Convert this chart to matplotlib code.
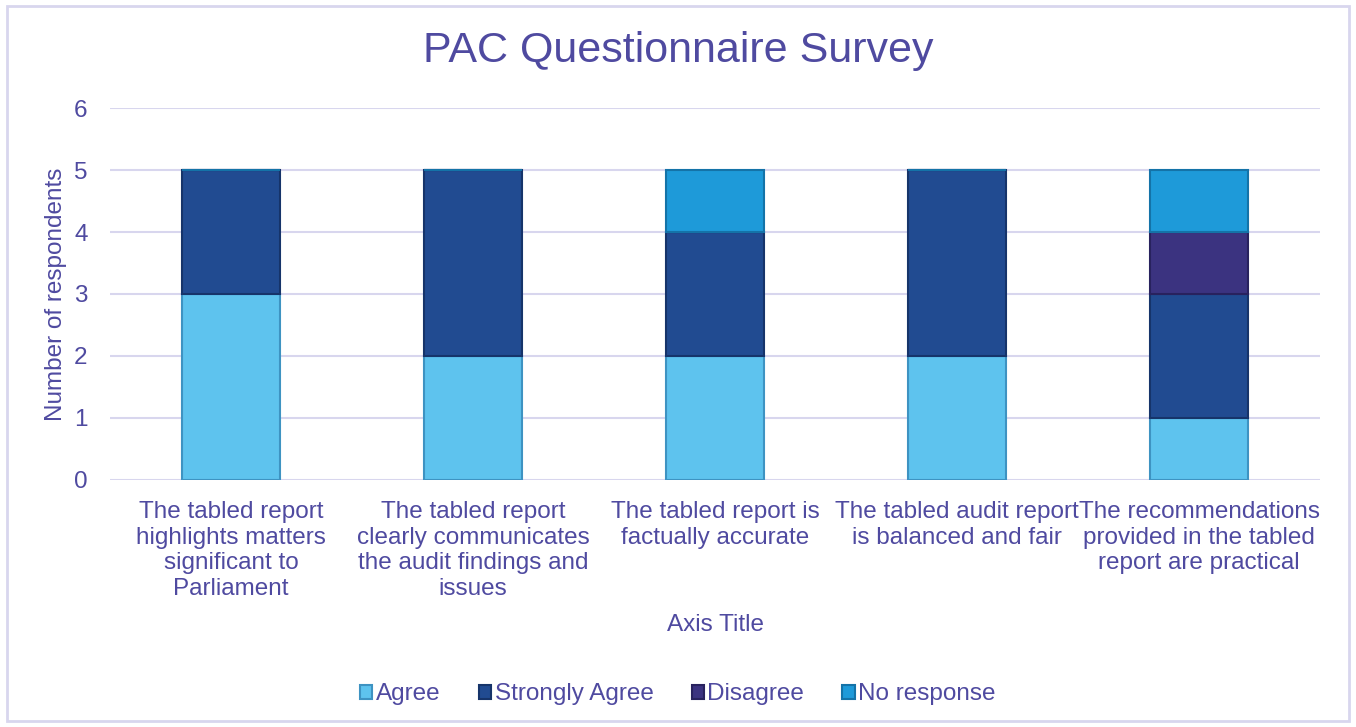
import numpy as np
import matplotlib.pyplot as plt
from matplotlib.patches import Rectangle

# dados do gráfico
categorias = ["The tabled report\nhighlights matters\nsignificant to\nParliament",
              "The tabled report\nclearly communicates\nthe audit findings and\nissues",
              "The tabled report is\nfactually accurate",
              "The tabled audit report\nis balanced and fair",
              "The recommendations\nprovided in the tabled\nreport are practical"]
series = ["Agree", "Strongly Agree", "Disagree", "No response"]
agree = [3, 2, 2, 2, 1]
strongly_agree = [2, 3, 2, 3, 2]
disagree = [0, 0, 0, 0, 1]
no_response = [0, 0, 1, 0, 1]
valores = [agree, strongly_agree, disagree, no_response]

cores = ["#5EC3EE", "#214B91", "#3B3380", "#1E9AD9"]
bordas = ["#3E93C2", "#16346A", "#28225E", "#1473A8"]
cor_texto = "#4F4AA0"
fs = 17.5
plt.rcParams['font.family'] = ['Liberation Sans', 'DejaVu Sans']

fig = plt.figure(figsize=(13.56, 7.27), dpi=100)
ax = fig.add_axes([0.0811, 0.3398, 0.8924, 0.5116])

x = np.arange(len(categorias))
base = np.zeros(len(categorias))
for nome, v, c, b in zip(series, valores, cores, bordas):
    v = np.array(v, dtype=float)
    ax.bar(x, v, bottom=base, width=0.405, color=c, edgecolor=b, linewidth=1.5,
           label=nome, zorder=3)
    base += v

ax.set_ylim(0, 6)
ax.set_xlim(-0.5, len(categorias) - 0.5)
ax.set_yticks(range(7))
ax.yaxis.grid(True, color="#D8D6EE", linewidth=1.5, zorder=0)
for s in ax.spines.values():
    s.set_visible(False)
ax.tick_params(length=0, labelsize=fs, labelcolor=cor_texto, pad=16)
ax.tick_params(axis='x', pad=15)
ax.set_xticks(x)
ax.set_xticklabels(categorias, linespacing=1.22, va='top')

ax.set_ylabel("Number of respondents", fontsize=fs, color=cor_texto, labelpad=5)
ax.set_xlabel("Axis Title", fontsize=fs, color=cor_texto, labelpad=10)
fig.text(0.5, 0.93, "PAC Questionnaire Survey", ha='center', va='center',
         fontsize=31, color=cor_texto)

leg = fig.legend(loc='center', bbox_to_anchor=(0.5, 0.045), ncol=4, frameon=False,
                 fontsize=fs, handlelength=0.5, handleheight=0.5,
                 handletextpad=0.15, columnspacing=1.57)
for t in leg.get_texts():
    t.set_color(cor_texto)

fig.patches.append(Rectangle((0.005, 0.008), 0.99, 0.984, transform=fig.transFigure,
                             fill=False, edgecolor="#D8D6EE", linewidth=2))

fig.savefig("out.png", dpi=100)
